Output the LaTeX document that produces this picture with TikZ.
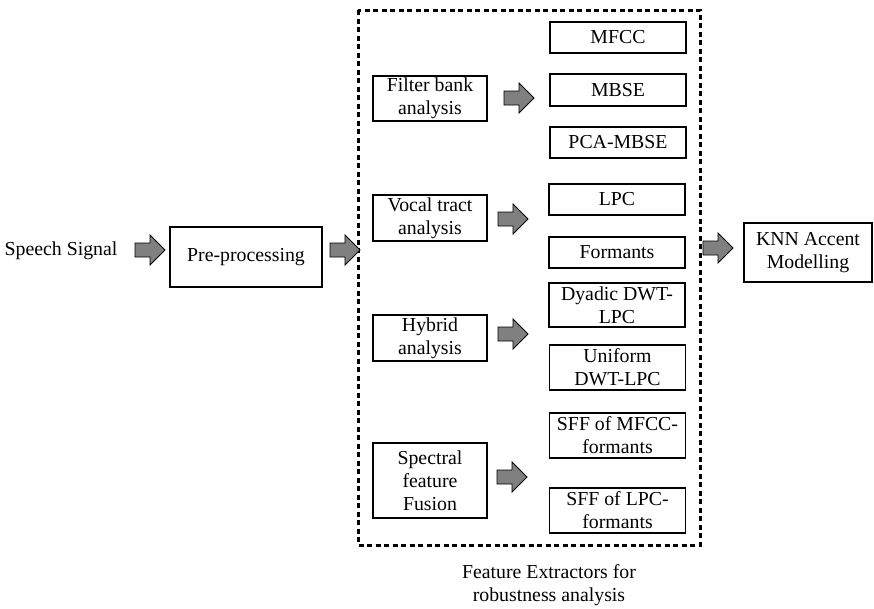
\documentclass[tikz,border=0pt]{standalone}
\usepackage{fontspec}
\setmainfont{Liberation Serif}
\usetikzlibrary{positioning}

\tikzset{
	block/.style={draw=black,line width=1.6pt,align=center,inner sep=0pt,
		font=\fontsize{19.8}{23}\selectfont},
	featbox/.style={block,minimum width=136pt},
	methbox/.style={block,minimum width=114pt},
	pics/blockarr/.style={code={
		\draw[fill=gray,draw=black,line width=0.8pt]
		(0,-7)--(15,-7)--(15,-15)--(30,0)--(15,15)--(15,7)--(0,7)--cycle;}}
}

\begin{document}
\begin{tikzpicture}[x=1pt,y=-1pt]
	\useasboundingbox (0,0) rectangle (874,608);
	
	%input and pre-processing
	\node[font=\fontsize{19.8}{23}\selectfont] (speech) at (61,251) {Speech Signal};
	\node[block,minimum width=152pt,minimum height=60pt] (pre) at (246,257) {Pre-processing};
	
	%feature extractor frame
	\draw[line width=3pt,dash pattern=on 5pt off 3.5pt] (358,10) rectangle (700,545);
	\node[font=\fontsize{19.8}{23}\selectfont,align=center] (caption) at (549,585)
	{Feature Extractors for\\robustness analysis};
	
	%analysis methods
	\node[methbox,minimum height=45pt] (filter) at (430,98.5) {Filter bank\\analysis};
	\node[methbox,minimum height=46pt] (vocal) at (430,218) {Vocal tract\\analysis};
	\node[methbox,minimum height=46pt] (hybrid) at (430,338) {Hybrid\\analysis};
	\node[methbox,minimum height=75pt] (fusion) at (430,480.5) {Spectral\\feature\\Fusion};
	
	%features
	\node[featbox,minimum height=31pt] (mfcc) at (618,37.5) {MFCC};
	\node[featbox,minimum height=32pt] (mbse) at (618,90) {MBSE};
	\node[featbox,minimum height=31pt] (pca) at (618,142.5) {PCA-MBSE};
	\node[featbox,minimum height=31pt] (lpc) at (617,199.5) {LPC};
	\node[featbox,minimum height=31pt] (formants) at (617,252.5) {Formants};
	\node[featbox,minimum height=44pt] (dyadic) at (617,305) {Dyadic DWT-\\LPC};
	\node[featbox,minimum height=45pt] (uniform) at (617.5,367.5) {Uniform\\DWT-LPC};
	\node[featbox,minimum height=45pt] (sffmfcc) at (617.5,435.5) {SFF of MFCC-\\formants};
	\node[featbox,minimum height=45pt] (sfflpc) at (617.5,510.5) {SFF of LPC-\\formants};
	
	%classifier
	\node[block,minimum width=128pt,minimum height=59pt] (knn) at (808,252.5) {KNN Accent\\Modelling};
	
	%block arrows
	\pic at (135,250) {blockarr};
	\pic at (330,250) {blockarr};
	\pic at (504,98) {blockarr};
	\pic at (498,219) {blockarr};
	\pic at (498,334) {blockarr};
	\pic at (497,477) {blockarr};
	\pic at (703,248) {blockarr};
	
\end{tikzpicture}
\end{document}
